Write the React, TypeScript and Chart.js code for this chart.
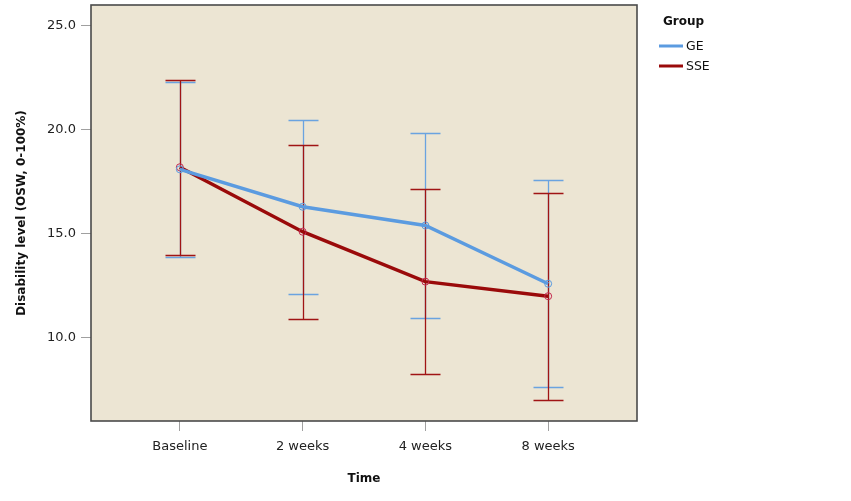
import { useEffect, useRef } from 'react';
import { Chart, registerables } from 'chart.js';

Chart.register(...registerables);

const categories = ['Baseline', '2 weeks', '4 weeks', '8 weeks'];
const geMean = [18.1, 16.3, 15.4, 12.6];
const geLower = [13.9, 12.1, 10.95, 7.64];
const geUpper = [22.3, 20.48, 19.84, 17.58];
const sseMean = [18.2, 15.1, 12.7, 12.0];
const sseLower = [14.0, 10.9, 8.27, 7.02];
const sseUpper = [22.4, 19.28, 17.14, 16.97];
const yTicks = [10, 15, 20, 25];
const seriesNames = ['GE', 'SSE'];

const FONT = '"DejaVu Sans", Verdana, sans-serif';
const GE_COLOR = '#5B9BE0';
const SSE_COLOR = '#9A0A0A';
const SSE_MARK = '#C42A50';
const GE_BAR = '#6AA3E0';
const SSE_BAR = '#A01414';

const decor = {
  id: 'decor',
  beforeDatasetsDraw(chart: any) {
    const { ctx, chartArea: a, scales } = chart;
    const x = scales.x;
    const y = scales.y;
    ctx.save();
    ctx.fillStyle = '#ECE5D3';
    ctx.fillRect(a.left, a.top, a.right - a.left, a.bottom - a.top);
    const bars = (lo: number[], hi: number[], color: string) => {
      ctx.strokeStyle = color;
      ctx.lineWidth = 1.3;
      lo.forEach((l, i) => {
        const px = Math.round(x.getPixelForValue(i)) + 0.5;
        const pl = Math.round(y.getPixelForValue(l)) + 0.5;
        const ph = Math.round(y.getPixelForValue(hi[i])) + 0.5;
        ctx.beginPath();
        ctx.moveTo(px, pl);
        ctx.lineTo(px, ph);
        ctx.moveTo(px - 15, pl);
        ctx.lineTo(px + 15, pl);
        ctx.moveTo(px - 15, ph);
        ctx.lineTo(px + 15, ph);
        ctx.stroke();
      });
    };
    bars(geLower, geUpper, GE_BAR);
    bars(sseLower, sseUpper, SSE_BAR);
    ctx.restore();
  },
  afterDraw(chart: any) {
    const { ctx, chartArea: a } = chart;
    ctx.save();
    ctx.strokeStyle = '#4a4a4a';
    ctx.lineWidth = 1.6;
    ctx.strokeRect(a.left, a.top, a.right - a.left, a.bottom - a.top);
    // legend
    ctx.fillStyle = '#111';
    ctx.textBaseline = 'middle';
    ctx.textAlign = 'left';
    ctx.font = `bold 12px ${FONT}`;
    ctx.fillText('Group', 663, 22);
    ctx.font = `12.5px ${FONT}`;
    const cols = [GE_COLOR, SSE_COLOR];
    seriesNames.forEach((n, i) => {
      const yy = 46 + i * 20;
      ctx.strokeStyle = cols[i];
      ctx.lineWidth = 3;
      ctx.beginPath();
      ctx.moveTo(659, yy);
      ctx.lineTo(683, yy);
      ctx.stroke();
      ctx.fillStyle = '#111';
      ctx.fillText(n, 686, yy + 1);
    });
    ctx.restore();
  },
};

export default function App() {
  const ref = useRef<HTMLCanvasElement>(null);
  useEffect(() => {
    if (!ref.current) return;
    const chart = new Chart(ref.current, {
      type: 'line',
      data: {
        datasets: [
          {
            label: seriesNames[0],
            data: geMean.map((v, i) => ({ x: i, y: v })),
            borderColor: GE_COLOR,
            borderWidth: 3.5,
            pointRadius: 3.5,
            pointBorderWidth: 1,
            pointBorderColor: GE_COLOR,
            pointBackgroundColor: 'rgba(0,0,0,0)',
            tension: 0,
          },
          {
            label: seriesNames[1],
            data: sseMean.map((v, i) => ({ x: i, y: v })),
            borderColor: SSE_COLOR,
            borderWidth: 3.5,
            pointRadius: 3.5,
            pointBorderWidth: 1,
            pointBorderColor: SSE_MARK,
            pointBackgroundColor: 'rgba(0,0,0,0)',
            tension: 0,
          },
        ],
      },
      options: {
        animation: false,
        responsive: false,
        devicePixelRatio: 1,
        layout: { padding: { top: 5, right: 214, left: 0, bottom: 0 } },
        plugins: { legend: { display: false }, tooltip: { enabled: false } },
        scales: {
          x: {
            type: 'linear',
            min: -89 / 123,
            max: 3 + 89 / 123,
            afterBuildTicks: (s: any) => {
              s.ticks = categories.map((_, i) => ({ value: i }));
            },
            afterFit: (s: any) => {
              s.height = 80;
              s.paddingLeft = 0;
              s.paddingRight = 0;
            },
            ticks: {
              callback: (v: any) => categories[v] ?? '',
              color: '#222',
              font: { family: FONT, size: 13 },
              padding: 8,
              maxRotation: 0,
              autoSkip: false,
            },
            grid: { drawOnChartArea: false, drawTicks: true, tickLength: 10, color: '#a0a0a0' },
            border: { display: false },
            title: {
              display: true,
              text: 'Time',
              color: '#111',
              font: { family: FONT, size: 12, weight: 'bold' },
              padding: { top: 0, bottom: 15 },
            },
          },
          y: {
            type: 'linear',
            min: 6,
            max: 26,
            afterBuildTicks: (s: any) => {
              s.ticks = yTicks.map((v) => ({ value: v }));
            },
            afterFit: (s: any) => {
              s.width = 91;
              s.paddingTop = 0;
              s.paddingBottom = 0;
            },
            ticks: {
              callback: (v: any) => Number(v).toFixed(1),
              color: '#222',
              font: { family: FONT, size: 13 },
              padding: 5,
            },
            grid: { drawOnChartArea: false, drawTicks: true, tickLength: 10, color: '#a0a0a0' },
            border: { display: false },
            title: {
              display: true,
              text: 'Disability level (OSW, 0-100%)',
              color: '#111',
              font: { family: FONT, size: 12, weight: 'bold' },
              padding: { top: 15, bottom: 0 },
            },
          },
        },
      },
      plugins: [decor],
    } as any);
    return () => chart.destroy();
  }, []);
  return (
    <div style={{ position: 'fixed', left: 0, top: 0, width: 851, height: 501, background: '#fff' }}>
      <canvas ref={ref} width={851} height={501} />
    </div>
  );
}
